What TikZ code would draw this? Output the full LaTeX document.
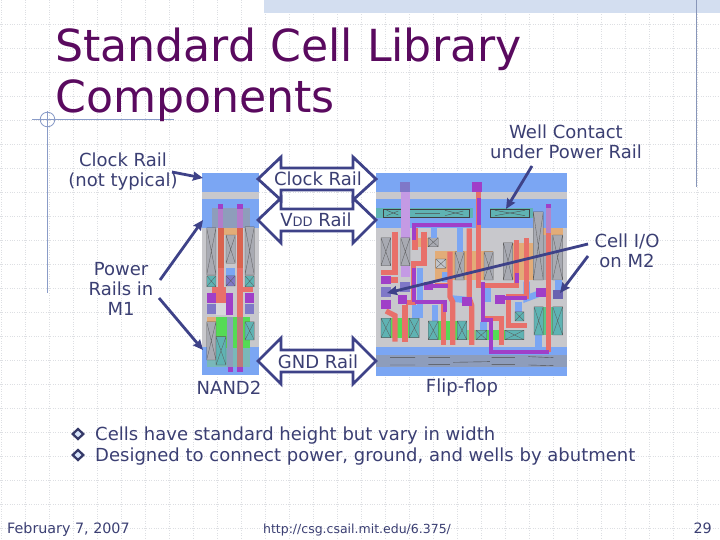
\documentclass[tikz,border=0pt]{standalone}
\usepackage{fontspec}
\setmainfont{DejaVu Sans}
\usetikzlibrary{arrows.meta,shapes.geometric}
\definecolor{ink}{HTML}{3B3F73}
\definecolor{ttl}{HTML}{5A0A5F}
\definecolor{arr}{HTML}{3E4288}
\definecolor{gridc}{HTML}{DDDFE3}
\definecolor{rule}{HTML}{8A9CC8}
\definecolor{band}{HTML}{D3DEF0}
\definecolor{mblue}{HTML}{7BA6F3}
\definecolor{mgray}{HTML}{C8C8CC}
\definecolor{mred}{HTML}{E8706A}
\definecolor{mredd}{HTML}{D9634F}
\definecolor{mpur}{HTML}{A03FC8}
\definecolor{mlil}{HTML}{C49AE4}
\definecolor{mgrn}{HTML}{55DB55}
\definecolor{mteal}{HTML}{5FB3B3}
\definecolor{mora}{HTML}{E2AC78}
\definecolor{mdif}{HTML}{A8AAB2}
\definecolor{mrail}{HTML}{8E9DBB}
\definecolor{mhat}{HTML}{7F78C8}
\definecolor{mio}{HTML}{6A62B0}
\newcommand{\rc}[5]{\fill[#5] (#1,#2) rectangle (#3,#4);}
\newcommand{\cx}[5]{\fill[#5] (#1,#2) rectangle (#3,#4);
  \draw[black!65,line width=0.3pt] (#1,#2) rectangle (#3,#4) (#1,#2) -- (#3,#4) (#1,#4) -- (#3,#2);}
\tikzset{
 lab/.style={text=ink,align=center,inner sep=0pt,font=\fontsize{18}{20}\selectfont},
 blockarrow/.style={draw=arr,fill=white,line width=2.8pt,line join=miter},
 pointer/.style={draw=arr,line width=2.8pt,-{Stealth[length=10pt,width=9pt,inset=1pt]}},
 redw/.style={draw=mred,line width=5.2pt,line join=miter},
 purw/.style={draw=mpur,line width=4pt,line join=miter},
 bluw/.style={draw=mblue,line width=6.5pt},
 squig/.style={draw=black!70,line width=0.4pt}
}
\begin{document}
\begin{tikzpicture}[x=1pt,y=-1pt]
\path[use as bounding box,fill=white] (0,0) rectangle (720,540);
% grid
\foreach \gx in {1,25,...,721} \draw[gridc,line width=0.8pt,dash pattern=on 1pt off 1.4pt] (\gx,0) -- (\gx,540);
\foreach \gy in {24,48,...,528} \draw[gridc,line width=0.8pt,dash pattern=on 1pt off 1.4pt] (0,\gy) -- (720,\gy);
% header
\fill[band] (192,0) rectangle (192,0);
\fill[band] (264,0) rectangle (720,13);
\draw[rule!80!gray,line width=1pt] (696.5,0) -- (696.5,187);
\draw[rule,line width=1pt] (32,119.5) -- (174,119.5);
\draw[rule,line width=1pt] (47.5,111) -- (47.5,293);
\draw[rule,line width=0.8pt] (47.5,119.5) circle (7.3);
% title
\node[anchor=base west,inner sep=0pt,text=ttl,font=\fontsize{44.2}{50}\selectfont] (title1) at (55,62) {Standard Cell Library};
\node[anchor=base west,inner sep=0pt,text=ttl,font=\fontsize{44.2}{50}\selectfont] (title2) at (55,113) {Components};
% NAND2 cell
\begin{scope}[shift={(190,160)},x=0.3333pt,y=-0.3333pt]
\rc{36}{40}{207}{97}{mblue}
\rc{36}{97}{207}{118}{mgray}
\rc{36}{118}{207}{205}{mblue}
\rc{36}{205}{207}{560}{mgray}
\rc{36}{560}{207}{645}{mblue}
\rc{65}{145}{180}{205}{mrail}
\rc{50}{565}{180}{620}{mteal!75!mgray}
\rc{85}{205}{160}{225}{mora}
\rc{84}{133}{100}{205}{mpur!55!mgray}
\rc{142}{133}{158}{205}{mpur!55!mgray}
\rc{84}{133}{100}{148}{mpur}
\rc{142}{133}{158}{148}{mpur}
\cx{50}{203}{78}{345}{mdif}
\cx{108}{225}{136}{310}{mdif}
\cx{165}{200}{193}{345}{mdif}
\rc{84}{205}{102}{325}{mredd}
\rc{142}{205}{160}{325}{mredd}
\rc{84}{325}{102}{395}{mred}
\rc{142}{325}{160}{395}{mred}
\rc{108}{325}{136}{347}{mblue}
\cx{50}{347}{78}{380}{mteal}
\cx{165}{347}{193}{380}{mteal}
\cx{108}{347}{136}{378}{mhat}
\rc{65}{380}{108}{428}{mred}
\rc{142}{380}{190}{395}{mred}
\rc{142}{395}{160}{475}{mred}
\rc{78}{430}{108}{465}{mgray!70!white}
\rc{108}{398}{128}{465}{mpur}
\rc{52}{398}{78}{428}{mpur}
\rc{165}{398}{193}{428}{mpur}
\rc{52}{432}{78}{463}{mhat}
\rc{165}{432}{193}{463}{mhat}
\rc{50}{472}{78}{485}{mora}
\rc{78}{472}{180}{565}{mgrn}
\cx{50}{485}{78}{600}{mdif}
\cx{78}{530}{108}{615}{mteal}
\cx{165}{485}{193}{540}{mteal}
\rc{112}{470}{130}{620}{mrail}
\rc{142}{470}{160}{620}{mredd!60!mrail}
\rc{114}{620}{130}{635}{mpur}
\rc{142}{620}{160}{635}{mpur}
\end{scope}
% Flip-flop cell
\begin{scope}[shift={(370,165)},x=0.3333pt,y=-0.3333pt]
\rc{18}{25}{592}{82}{mblue}
\rc{18}{82}{592}{102}{mgray}
\rc{18}{102}{592}{190}{mblue}
\rc{18}{190}{592}{545}{mgray}
\rc{18}{545}{592}{632}{mblue}
\rc{130}{220}{180}{245}{mora}
\rc{195}{258}{370}{345}{mora}
\rc{400}{235}{500}{345}{mora}
\rc{490}{190}{580}{210}{mora}
\rc{520}{210}{580}{345}{mdif}
\rc{18}{130}{310}{160}{mteal}
\rc{360}{130}{490}{160}{mteal}
\draw[black!75,line width=0.4pt] (40,132) rectangle (298,158);
\draw[black!75,line width=0.4pt] (362,132) rectangle (478,158);
\draw[squig] (50,136) -- (85,150) (50,152) -- (85,138) (135,145) -- (210,145) (225,136) -- (280,150) (225,152) -- (280,138);
\draw[squig] (375,136) -- (465,152) (375,152) -- (465,136);
\rc{92}{82}{120}{218}{mlil}
\rc{92}{218}{120}{335}{mlil}
% diffusion contacts
\cx{33}{218}{62}{302}{mdif}
\cx{92}{218}{120}{302}{mdif}
\cx{175}{218}{205}{245}{mdif}
\cx{255}{260}{283}{345}{mdif}
\cx{342}{260}{370}{345}{mdif}
\cx{400}{233}{428}{345}{mdif}
\cx{490}{140}{520}{345}{mdif}
\cx{548}{210}{578}{345}{mdif}
\cx{197}{282}{228}{310}{mdif!70!white}
% blue M2
\draw[bluw] (150,310) -- (150,460);
\draw[bluw] (192,190) -- (192,220);
\draw[bluw] (270,190) -- (270,260);
\draw[bluw] (195,420) -- (195,470);
\draw[bluw] (225,320) -- (225,350);
\draw[bluw] (352,360) -- (352,410);
\draw[bluw] (340,470) -- (340,496);
\draw[bluw] (445,410) -- (445,440);
\draw[bluw] (470,350) -- (470,400) -- (510,385);
\draw[bluw] (505,510) -- (505,545);
\draw[bluw] (565,345) -- (565,375);
\draw[bluw] (135,420) -- (135,460);
\draw[bluw] (240,400) -- (290,405);
% active
\rc{62}{460}{118}{518}{mgrn}
\rc{205}{468}{262}{524}{mgrn}
\rc{290}{496}{318}{524}{mgrn!60!mgray}
\rc{350}{496}{405}{524}{mgrn}
\rc{520}{425}{548}{510}{mgrn!45!mteal}
\cx{33}{460}{62}{518}{mteal}
\cx{118}{460}{148}{518}{mteal}
\cx{175}{468}{205}{524}{mteal}
\cx{262}{468}{290}{524}{mteal}
\cx{318}{496}{350}{524}{mteal}
\cx{405}{496}{462}{524}{mteal}
\cx{435}{440}{462}{468}{mteal}
\cx{492}{425}{520}{510}{mteal}
\cx{548}{425}{578}{510}{mteal}
% red poly
\draw[redw] (75,200) -- (75,322) -- (32,322);
\draw[redw] (135,190) -- (135,255);
\draw[redw] (162,200) -- (162,295) -- (130,295) -- (130,412) -- (108,412);
\draw[redw] (240,260) -- (240,395) -- (248,410) -- (248,540);
\draw[redw] (220,410) -- (220,540);
\draw[redw] (298,190) -- (298,400) -- (305,420) -- (305,540);
\draw[redw] (325,82) -- (325,362) -- (440,362) -- (440,225);
\draw[redw] (470,220) -- (470,395) -- (415,395) -- (415,482) -- (472,482);
\draw[redw] (535,130) -- (535,560);
\draw[redw] (345,460) -- (395,460) -- (395,540);
\draw[redw] (105,420) -- (105,530);
\draw[redw] (48,438) -- (75,452) -- (75,530);
\draw[redw] (196,362) -- (240,362);
\draw[redw] (62,345) -- (85,345);
% purple M1
\draw[purw] (132,225) -- (132,180) -- (305,180);
\draw[purw] (326,100) -- (326,180);
\draw[purw] (340,350) -- (340,465) -- (362,465) -- (362,562) -- (538,562);
\draw[purw] (135,410) -- (225,410) -- (225,440);
\draw[purw] (133,310) -- (133,410);
\draw[purw] (190,362) -- (235,362);
\draw[purw] (440,325) -- (440,355);
\draw[purw] (395,400) -- (470,400);
\rc{528}{118}{543}{130}{mpur}
\rc{528}{130}{543}{205}{mpur!50!mgray}
% contacts
\rc{90}{52}{120}{82}{mhat}
\rc{305}{52}{335}{82}{mpur}
\rc{90}{350}{120}{382}{mhat}
\rc{33}{332}{62}{358}{mpur}
\rc{33}{366}{62}{396}{mhat}
\rc{33}{405}{62}{432}{mpur}
\rc{85}{390}{112}{416}{mpur}
\rc{162}{350}{190}{374}{mpur}
\rc{277}{396}{305}{424}{mpur}
\rc{376}{390}{404}{416}{mpur}
\rc{498}{368}{527}{396}{mpur}
\rc{550}{374}{578}{402}{mio}
% ground rail
\rc{18}{570}{592}{605}{mrail}
\draw[squig] (60,578) -- (135,578) (60,600) -- (135,600) (175,578) -- (240,578) (175,598) -- (240,598) (250,592) -- (360,590) (365,578) -- (435,578) (365,598) -- (435,598) (475,575) -- (550,578) (475,600) -- (550,602);
\end{scope}
% block arrows
\path[blockarrow] (258,179) -- (281,157) -- (281,168) -- (353,168) -- (353,157) -- (376,179) -- (353,200) -- (353,190) -- (281,190) -- (281,200) -- cycle;
\path[blockarrow] (258,220) -- (281,198) -- (281,209) -- (353,209) -- (353,198) -- (376,220) -- (353,243) -- (353,231) -- (281,231) -- (281,243) -- cycle;
\path[blockarrow] (258,361) -- (281,338) -- (281,350) -- (353,350) -- (353,338) -- (376,361) -- (353,384) -- (353,372) -- (281,372) -- (281,384) -- cycle;
\node[lab] (lclock) at (318,178.5) {Clock Rail};
\node[lab] (lvdd) at (316,220) {V{\fontsize{13}{14}\selectfont DD} Rail};
\node[lab] (lgnd) at (318,361.5) {GND Rail};
% labels
\node[lab] (lcr) at (123,172) {Clock Rail\\(not typical)};
\node[lab] (lwc) at (566,142) {Well Contact\\under Power Rail};
\node[lab] (lio) at (627,251) {Cell I/O\\on M2};
\node[lab] (lpr) at (121,289) {Power\\Rails in\\M1};
\node[lab] (lnand) at (229,388) {NAND2};
\node[lab] (lff) at (462,388) {Flip-flop};
% pointers
\coordinate (c1a) at (172,172); \coordinate (c1b) at (203,178);
\coordinate (p1a) at (160,280); \coordinate (p1b) at (203,220);
\coordinate (p2a) at (159,298); \coordinate (p2b) at (203,350);
\coordinate (w1a) at (532,166); \coordinate (w1b) at (506,209);
\coordinate (i1a) at (588,244); \coordinate (i1b) at (387,293);
\coordinate (i2a) at (588,256); \coordinate (i2b) at (560,293);
\draw[pointer] (c1a) -- (c1b);
\draw[pointer] (p1a) -- (p1b);
\draw[pointer] (p2a) -- (p2b);
\draw[pointer] (w1a) -- (w1b);
\draw[pointer] (i1a) -- (i1b);
\draw[pointer] (i2a) -- (i2b);
% bullets
\foreach \by/\bn in {434/ba,455/bb}{
  \fill[ink!90!black] (78,\by-6.5) -- (85,\by) -- (78,\by+6.5) -- (71,\by) -- cycle;
  \fill[white!70!mblue] (78,\by-3.2) -- (81.5,\by) -- (78,\by+3.2) -- (74.5,\by) -- cycle;
}
\node[anchor=base west,inner sep=0pt,text=ink,font=\fontsize{18}{20}\selectfont] (t1) at (95,440) {Cells have standard height but vary in width};
\node[anchor=base west,inner sep=0pt,text=ink,font=\fontsize{18}{20}\selectfont] (t2) at (95,461) {Designed to connect power, ground, and wells by abutment};
% footer
\node[anchor=base west,inner sep=0pt,text=ink,font=\fontsize{14.3}{16}\selectfont] (f1) at (7,533) {February 7, 2007};
\node[anchor=base,inner sep=0pt,text=ink,font=\fontsize{12.5}{16}\selectfont] (f2) at (357,533) {http://csg.csail.mit.edu/6.375/};
\node[anchor=base east,inner sep=0pt,text=ink,font=\fontsize{14.3}{16}\selectfont] (f3) at (712,533) {29};
\end{tikzpicture}
\end{document}
